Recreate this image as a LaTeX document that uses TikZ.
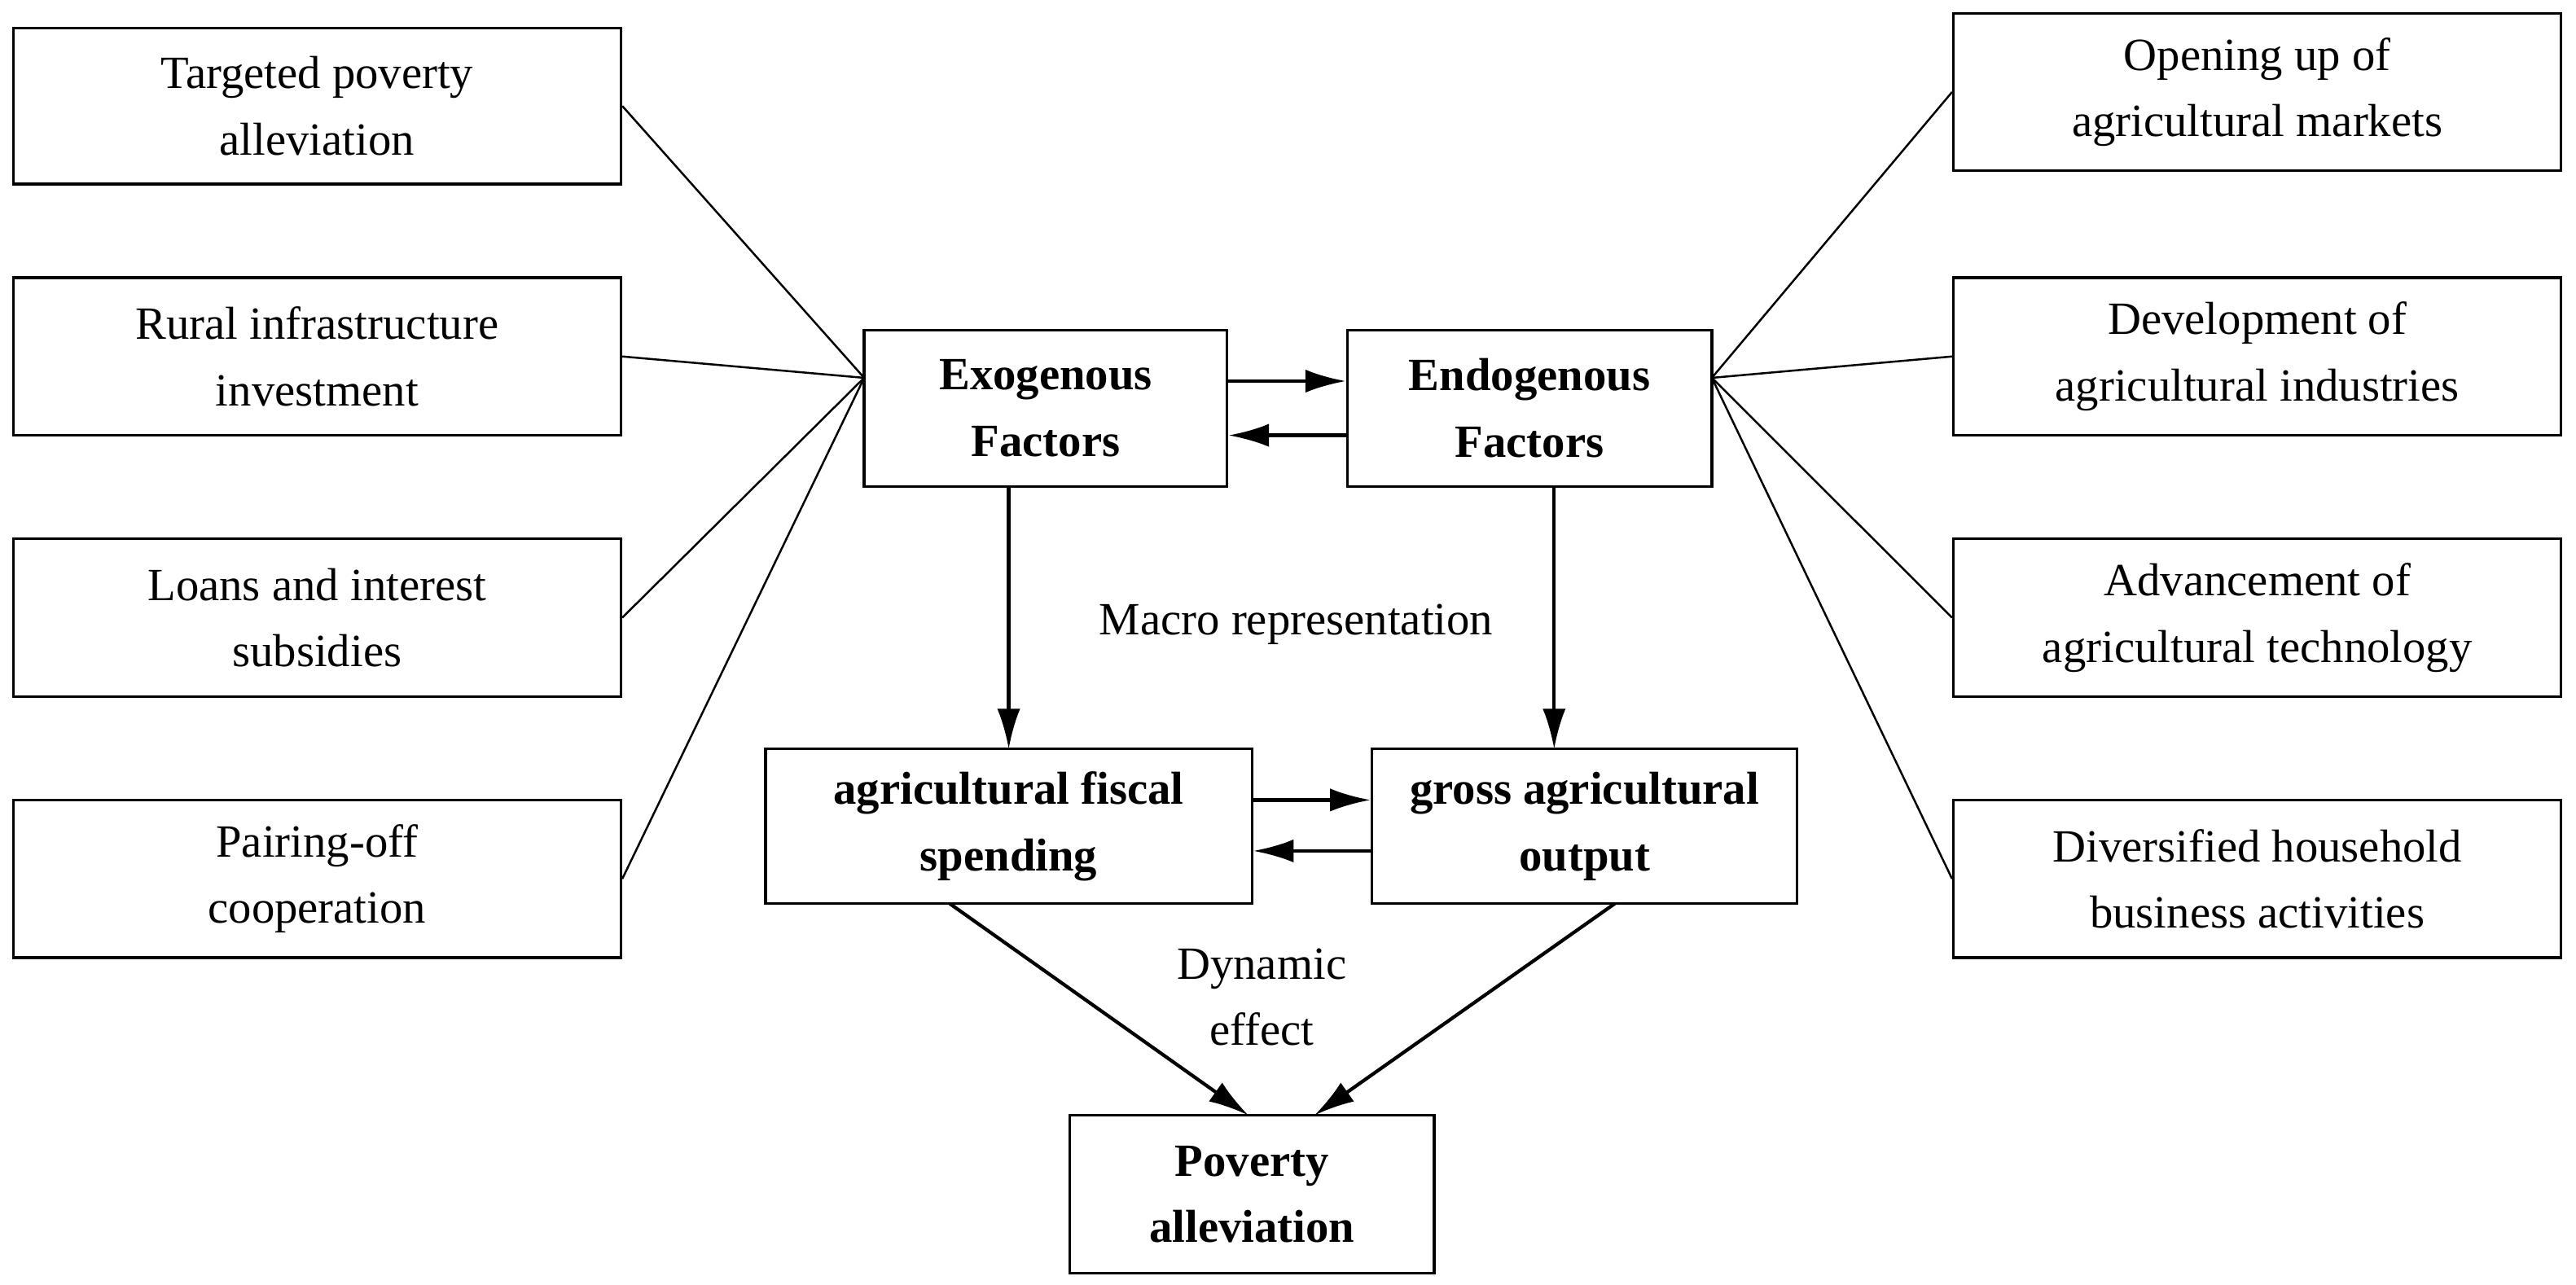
\documentclass[tikz,border=0pt]{standalone}
\usepackage{fontspec}
\setmainfont{Liberation Serif}
\usetikzlibrary{arrows.meta}
\begin{document}
\begin{tikzpicture}[x=0.02cm,y=-0.02cm,
  bx/.style={draw,line width=0.9pt,inner sep=0pt,align=center,font=\fontsize{16}{23}\selectfont},
  bb/.style={bx,font=\fontsize{16}{23}\selectfont\bfseries},
  ln/.style={line width=0.7pt},
  ar/.style={line width=1.2pt,-{Latex[length=14pt,width=8pt]}}]
\useasboundingbox (0,0) rectangle (1568,782);
\newcommand{\bxat}[6]{\node[#1,minimum width={(#4-#2)*0.02cm},minimum height={(#5-#3)*0.02cm}] (#6) at ({(#2+#4)/2},{(#3+#5)/2})}
\bxat{bx}{8}{17}{378}{112}{l1}{Targeted poverty\\alleviation};
\bxat{bx}{8}{169}{378}{265}{l2}{Rural infrastructure\\investment};
\bxat{bx}{8}{328}{378}{424}{l3}{Loans and interest\\subsidies};
\bxat{bx}{8}{487}{378}{583}{l4}{Pairing-off\\cooperation};
\bxat{bx}{1189}{8}{1559}{104}{r1}{Opening up of\\agricultural markets};
\bxat{bx}{1189}{169}{1559}{265}{r2}{Development of\\agricultural industries};
\bxat{bx}{1189}{328}{1559}{424}{r3}{Advancement of\\agricultural technology};
\bxat{bx}{1189}{487}{1559}{583}{r4}{Diversified household\\business activities};
\bxat{bb}{526}{201}{747}{296}{exo}{Exogenous\\Factors};
\bxat{bb}{820}{201}{1042}{296}{endo}{Endogenous\\Factors};
\bxat{bb}{466}{456}{762}{550}{afs}{agricultural fiscal\\spending};
\bxat{bb}{835}{456}{1094}{550}{gao}{gross agricultural\\output};
\bxat{bb}{651}{679}{873}{775}{pov}{Poverty\\alleviation};
\coordinate (cl) at (526,230);
\coordinate (cr) at (1042,230);
\foreach \n in {l1,l2,l3,l4} \draw[ln] (\n.east) -- (cl);
\foreach \n in {r1,r2,r3,r4} \draw[ln] (\n.west) -- (cr);
\draw[ar] (exo.east|-0,232) -- (endo.west|-0,232);
\draw[ar] (endo.west|-0,265) -- (exo.east|-0,265);
\draw[ar] (614,296) -- (614,456);
\draw[ar] (946,296) -- (946,456);
\draw[ar] (afs.east|-0,487) -- (gao.west|-0,487);
\draw[ar] (gao.west|-0,518) -- (afs.east|-0,518);
\draw[ar] (578,550) -- (760,679);
\draw[ar] (983,550) -- (800,679);
\node[font=\fontsize{16}{23}\selectfont] (mr) at (789,380) {Macro representation};
\node[font=\fontsize{16}{23}\selectfont,align=center] (de) at (768,607) {Dynamic\\effect};
\end{tikzpicture}
\end{document}
